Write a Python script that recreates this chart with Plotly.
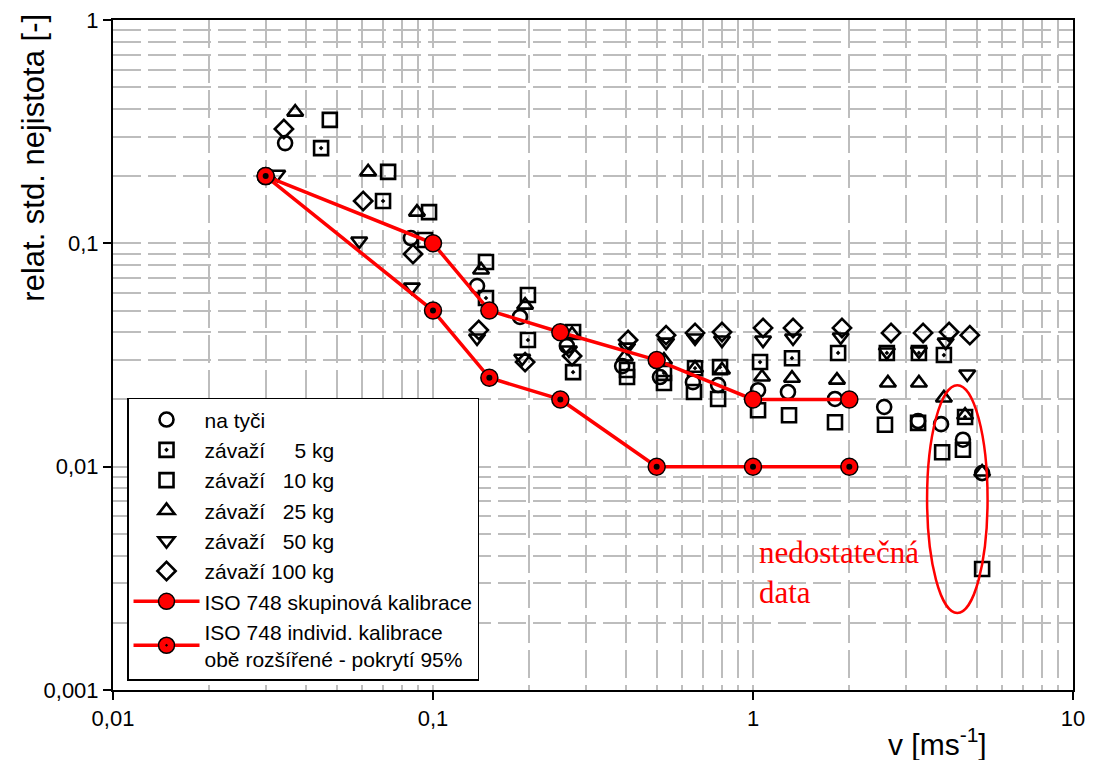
import plotly.graph_objects as go

# --- measured uncertainty data (velocity v [m/s], relative std. uncertainty [-]) ---
na_tyci_v = [0.0345, 0.0853, 0.1373, 0.187, 0.262, 0.390, 0.512, 0.649, 0.778, 1.037, 1.286, 1.804, 2.57, 3.28, 3.87, 4.53, 5.20]
na_tyci_u = [0.281, 0.1056, 0.0644, 0.0468, 0.0347, 0.0282, 0.0252, 0.0239, 0.0232, 0.0220, 0.0216, 0.0201, 0.0185, 0.0160, 0.0155, 0.0132, 0.00936]

kg5_v = [0.0447, 0.0698, 0.0944, 0.1464, 0.198, 0.274, 0.404, 0.527, 0.659, 0.789, 1.052, 1.324, 1.845, 2.62, 3.30, 3.95, 4.60]
kg5_u = [0.267, 0.1547, 0.1035, 0.0569, 0.0369, 0.0265, 0.0271, 0.0263, 0.0276, 0.0279, 0.0294, 0.0306, 0.0323, 0.0323, 0.0323, 0.0316, 0.0167]

kg10_v = [0.0476, 0.0724, 0.0972, 0.1464, 0.198, 0.274, 0.404, 0.527, 0.654, 0.778, 1.037, 1.296, 1.804, 2.585, 3.28, 3.90, 4.53, 5.20]
kg10_u = [0.357, 0.209, 0.138, 0.0825, 0.0587, 0.0401, 0.0252, 0.0237, 0.0216, 0.0201, 0.0179, 0.0170, 0.0158, 0.0154, 0.0157, 0.0116, 0.0119, 0.00348]

kg25_v = [0.0371, 0.0627, 0.0891, 0.1413, 0.194, 0.272, 0.398, 0.527, 0.659, 0.800, 1.067, 1.324, 1.83, 2.64, 3.30, 3.95, 4.60, 5.20]
kg25_u = [0.387, 0.209, 0.138, 0.0760, 0.0529, 0.0392, 0.0310, 0.0300, 0.0276, 0.0271, 0.0252, 0.0249, 0.0244, 0.0237, 0.0237, 0.0203, 0.0170, 0.00946]

kg50_v = [0.0326, 0.0588, 0.0859, 0.1373, 0.190, 0.266, 0.404, 0.535, 0.659, 0.800, 1.075, 1.334, 1.88, 2.62, 3.30, 4.00, 4.67]
kg50_u = [0.204, 0.1024, 0.0637, 0.0377, 0.0306, 0.0333, 0.0343, 0.0361, 0.0377, 0.0369, 0.0369, 0.0377, 0.0381, 0.0326, 0.0330, 0.0361, 0.0260]

kg100_v = [0.0342, 0.0605, 0.0866, 0.139, 0.194, 0.272, 0.407, 0.535, 0.659, 0.800, 1.075, 1.334, 1.897, 2.70, 3.40, 4.10, 4.76]
kg100_u = [0.325, 0.1547, 0.0896, 0.0409, 0.0294, 0.0313, 0.0369, 0.0388, 0.0397, 0.0401, 0.0418, 0.0418, 0.0418, 0.0397, 0.0397, 0.0401, 0.0388]

# ISO 748 expanded uncertainties (95 % coverage)
iso_v = [0.03, 0.1, 0.15, 0.25, 0.5, 1.0, 2.0]
iso_group_u = [0.2, 0.1, 0.05, 0.04, 0.03, 0.02, 0.02]
iso_indiv_u = [0.2, 0.05, 0.025, 0.02, 0.01, 0.01, 0.01]

series = [
    ("na tyči", na_tyci_v, na_tyci_u, "circle-open"),
    ("závaží&nbsp;&nbsp;&nbsp;&nbsp; 5 kg", kg5_v, kg5_u, "square-open-dot"),
    ("závaží&nbsp;&nbsp; 10 kg", kg10_v, kg10_u, "square-open"),
    ("závaží&nbsp;&nbsp; 25 kg", kg25_v, kg25_u, "triangle-up-open"),
    ("závaží&nbsp;&nbsp; 50 kg", kg50_v, kg50_u, "triangle-down-open"),
    ("závaží 100 kg", kg100_v, kg100_u, "diamond-open"),
]

fig = go.Figure()
for name, xs, ys, sym in series:
    fig.add_trace(go.Scatter(
        x=xs, y=ys, mode="markers", name=name,
        marker=dict(symbol=sym, size=14, color="black", line=dict(color="black", width=2.6)),
    ))

fig.add_trace(go.Scatter(
    x=iso_v, y=iso_group_u, mode="lines+markers", name="ISO 748 skupinová kalibrace",
    line=dict(color="#ff0000", width=3.5),
    marker=dict(symbol="circle", size=17, color="#ff0000", line=dict(color="black", width=1.5)),
))
fig.add_trace(go.Scatter(
    x=iso_v, y=iso_indiv_u, mode="lines+markers",
    name="ISO 748 individ. kalibrace<br>obě rozšířené - pokrytí 95%",
    line=dict(color="#ff0000", width=3.5),
    marker=dict(symbol="circle-dot", size=17, color="#ff0000", line=dict(color="black", width=1.5)),
))
# black centre dots of the individual-calibration markers
fig.add_trace(go.Scatter(
    x=iso_v, y=iso_indiv_u, mode="markers", showlegend=False,
    hoverinfo="skip",
    marker=dict(symbol="circle", size=6, color="black", line=dict(width=0)),
))

minor_vals = [k * 10.0 ** e for e in range(-3, 1) for k in range(2, 10)]
grid_style = dict(showgrid=True, gridcolor="#bdbdbd", gridwidth=1.8, griddash="28px,7px")
tick_font = dict(family="Arial, Liberation Sans, sans-serif", size=22, color="black")

fig.update_xaxes(
    type="log", range=[-2, 1],
    tickvals=[0.01, 0.1, 1, 10], ticktext=["0,01", "0,1", "1", "10"],
    ticks="outside", ticklen=8, tickwidth=2, tickcolor="black",
    showline=True, linecolor="black", linewidth=2, mirror=True,
    minor=dict(tickvals=minor_vals, ticks="", **grid_style),
    zeroline=False, tickfont=tick_font, **grid_style,
)
fig.update_yaxes(
    type="log", range=[-3, 0],
    tickvals=[0.001, 0.01, 0.1, 1], ticktext=["0,001", "0,01", "0,1", "1"],
    ticks="outside", ticklen=8, tickwidth=2, tickcolor="black",
    showline=True, linecolor="black", linewidth=2, mirror=True,
    minor=dict(tickvals=minor_vals, ticks="", **grid_style),
    zeroline=False, tickfont=tick_font, **grid_style,
)

# region with insufficient data
fig.add_shape(type="circle", xref="paper", yref="paper",
              x0=0.848, x1=0.911, y0=0.115, y1=0.455,
              line=dict(color="#ff0000", width=2.5))

fig.add_annotation(text="nedostatečná<br>data", xref="paper", yref="paper",
                   x=0.671, y=0.176, xanchor="left", yanchor="middle", align="left",
                   showarrow=False,
                   font=dict(family="Liberation Serif, Times New Roman, serif", size=31, color="#ff0000"))

# axis titles
fig.add_annotation(text="relat. std. nejistota [-]", xref="paper", yref="paper",
                   x=-0.083, y=0.795, textangle=-90, showarrow=False,
                   xanchor="center", yanchor="middle",
                   font=dict(family="Arial, Liberation Sans, sans-serif", size=31, color="black"))
fig.add_annotation(text="v [ms<sup>-1</sup>]", xref="paper", yref="paper",
                   x=0.859, y=-0.078, showarrow=False, xanchor="center", yanchor="middle",
                   font=dict(family="Arial, Liberation Sans, sans-serif", size=30, color="black"))

fig.update_layout(
    width=1094, height=760,
    margin=dict(l=113, r=21, t=20, b=70, autoexpand=False),
    plot_bgcolor="white", paper_bgcolor="white",
    font=dict(family="Arial, Liberation Sans, sans-serif", color="black"),
    legend=dict(
        x=0.0146, y=0.436, xanchor="left", yanchor="top",
        bgcolor="white", bordercolor="black", borderwidth=1.5,
        font=dict(size=21, color="black"),
        traceorder="normal", tracegroupgap=0,
        itemwidth=66,
    ),
)

fig.write_html("out.html")
